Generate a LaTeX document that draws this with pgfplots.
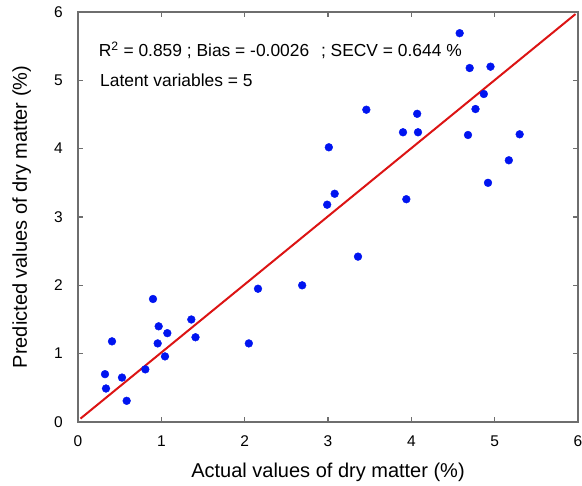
\documentclass[border=0pt]{standalone}
\usepackage{fontspec}
\setmainfont{Liberation Sans}
\usepackage{pgfplots}
\pgfplotsset{compat=1.18}
\definecolor{dotblue}{RGB}{0,20,240}
\definecolor{fitred}{RGB}{220,20,20}
\definecolor{framegray}{RGB}{110,110,110}

\begin{document}
\begin{tikzpicture}
\begin{axis}[
  scale only axis, width=500bp, height=410bp,
  xmin=0, xmax=6, ymin=0, ymax=6,
  xtick={0,...,6}, ytick={0,...,6},
  tick align=inside, major tick length=5bp,
  axis line style={framegray, line width=1.5bp},
  every tick/.style={framegray, line width=1.2bp},
  /pgf/number format/assume math mode=true,
  ticklabel style={font=\fontsize{15.5bp}{18bp}\selectfont},
  xticklabel style={anchor=base, yshift=-25bp},
  yticklabel style={anchor=east, inner sep=0pt, xshift=-15bp},
  xlabel={Actual values of dry matter (\%)},
  ylabel={Predicted values of dry matter (\%)},
  label style={font=\fontsize{20bp}{24bp}\selectfont},
  xlabel style={at={(axis description cs:0.5,-0.1366)}, anchor=base},
  ylabel style={at={(axis description cs:-0.102,0.5)}, anchor=base},
]
% fit line
\addplot[fitred, line width=2bp] coordinates {(0.03,0.05) (5.97,5.97)};
% samples
\addplot[only marks, mark=*, mark size=3.9bp, dotblue] coordinates {
  (0.324,0.70) (0.336,0.49) (0.408,1.18) (0.528,0.65) (0.584,0.31)
  (0.808,0.77) (0.90,1.80) (0.968,1.40) (0.956,1.15) (1.072,1.30)
  (1.044,0.96) (1.36,1.50) (1.41,1.24) (2.16,1.95) (2.05,1.15)
  (2.69,2.00) (3.36,2.42)
  (4.58,5.69) (4.70,5.18) (4.95,5.20) (4.87,4.80) (4.77,4.58)
  (3.46,4.57) (4.07,4.51) (3.90,4.24) (4.08,4.24) (4.68,4.20)
  (5.30,4.21) (5.17,3.83) (4.92,3.50) (3.01,4.02) (3.08,3.34)
  (2.99,3.18) (3.94,3.26)
};
\node[anchor=base west, font=\fontsize{17.4bp}{21bp}\selectfont, inner sep=0pt]
  at (axis cs:0.248,5.344) {R\textsuperscript{2} = 0.859 ; Bias = -0.0026\hspace{0.4em} ; SECV = 0.644 \%};
\node[anchor=base west, font=\fontsize{17.4bp}{21bp}\selectfont, inner sep=0pt]
  at (axis cs:0.264,4.905) {Latent variables = 5};
\end{axis}
\pgfresetboundingbox
\path[use as bounding box] ([shift={(-78bp,-64bp)}]current axis.south west)
  rectangle ([shift={(4bp,12bp)}]current axis.north east);
\end{tikzpicture}
\end{document}
